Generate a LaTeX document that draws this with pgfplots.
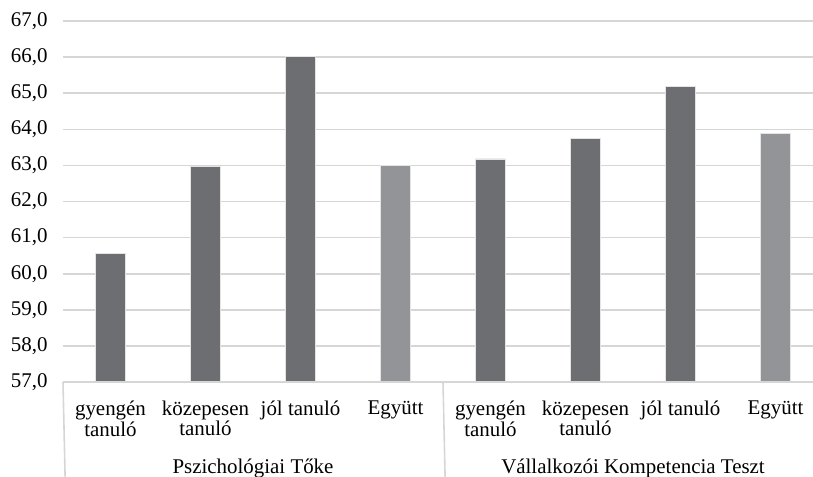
\documentclass[border=0pt]{standalone}
\usepackage{pgfplots}
\pgfplotsset{compat=1.18}
\usepackage{fontspec}
\setmainfont{Liberation Serif}

\definecolor{bardark}{HTML}{6D6E72}
\definecolor{barlight}{HTML}{939498}
\definecolor{gridc}{HTML}{D6D6D6}
\definecolor{baredge}{HTML}{E4E4E4}

\begin{document}
\begin{tikzpicture}[x=1bp,y=1bp]
\path[use as bounding box] (-63,-95) rectangle (750,382);
\begin{axis}[
    at={(0,0)}, anchor=south west,
    scale only axis,
    width=750bp, height=361bp,
    xmin=-0.5, xmax=7.395,
    ymin=57, ymax=67,
    ytick={57,58,...,67},
    xtick={0,...,7},
    xticklabels={gyengén\\tanuló, közepesen\\tanuló, jól tanuló, Együtt,
                 gyengén\\tanuló, közepesen\\tanuló, jól tanuló, Együtt},
    xticklabel style={align=center, font=\fontsize{21}{21}\selectfont, yshift=-15bp},
    yticklabel style={font=\fontsize{21}{21}\selectfont, xshift=-12bp},
    /pgf/number format/.cd, fixed, fixed zerofill, precision=1, use comma,
      assume math mode=true,
    /pgfplots/.cd,
    ymajorgrids,
    grid style={gridc, line width=1.6bp},
    major tick length=0pt,
    axis line style={draw=none},
    ybar, bar width=30bp, bar shift=0pt,
    clip=false,
]
\addplot[fill=bardark, draw=baredge, line width=0.8bp] coordinates {
    (0,60.55) (1,62.96) (2,66.02) (4,63.18) (5,63.75) (6,65.18)
};
\addplot[fill=barlight, draw=baredge, line width=0.8bp] coordinates {
    (3,63.00) (7,63.89)
};
\draw[gridc, line width=1.6bp] (axis cs:-0.5,57) -- (axis cs:7.395,57);
\draw[gridc, line width=1.6bp] (axis cs:-0.5,57) -- ++(0,-95bp);
\draw[gridc, line width=1.6bp] (axis cs:3.5,57) -- ++(0,-95bp);
\node[font=\fontsize{21}{21}\selectfont] at (axis cs:1.5,57) [yshift=-86bp] {Pszichológiai Tőke};
\node[font=\fontsize{21}{21}\selectfont] at (axis cs:5.5,57) [yshift=-86bp] {Vállalkozói Kompetencia Teszt};
\end{axis}
\end{tikzpicture}
\end{document}
